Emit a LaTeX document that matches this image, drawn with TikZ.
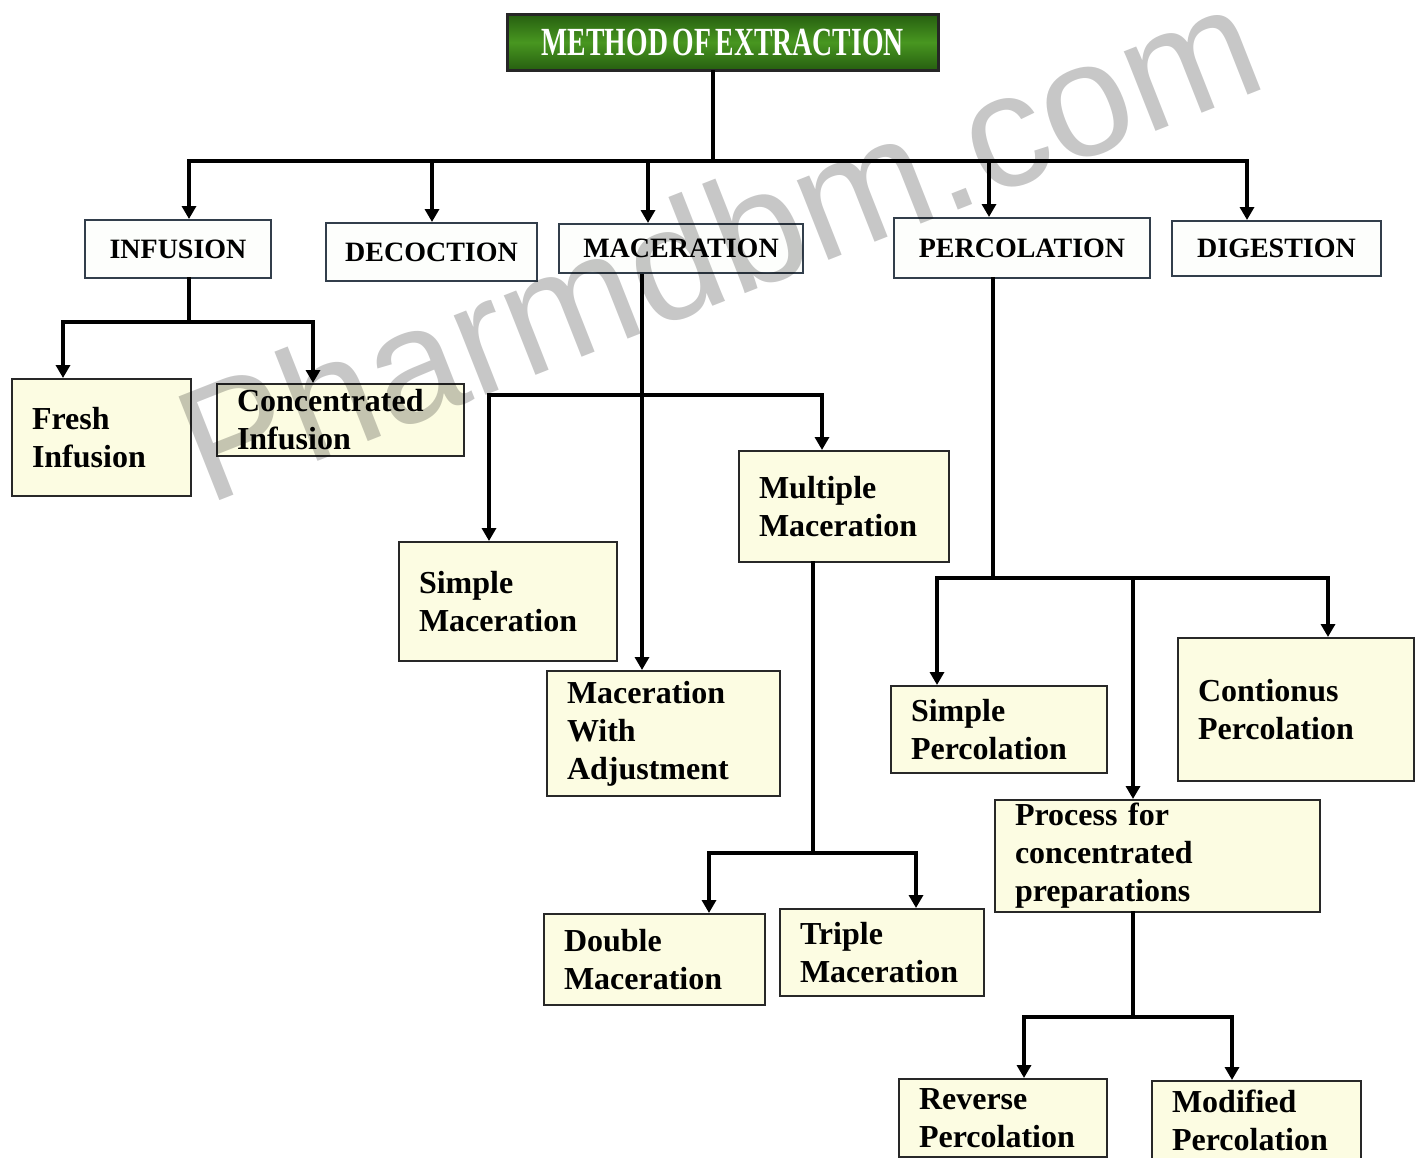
\documentclass[tikz,border=0pt]{standalone}
\usepackage{fontspec}
\setmainfont{Liberation Serif}
\newfontfamily\wmfont{Liberation Sans}
\usepackage{graphicx}
\usetikzlibrary{arrows.meta}

\definecolor{boxfill}{RGB}{252,252,226}
\definecolor{topfill}{RGB}{253,254,252}
\definecolor{edge}{RGB}{40,40,40}
\definecolor{topedge}{RGB}{50,62,75}
\definecolor{titlegreen}{RGB}{72,150,32}
\definecolor{titledark}{RGB}{38,95,16}

\begin{document}
\begin{tikzpicture}[x=1pt,y=-1pt,
  topbox/.style={draw=topedge, line width=2pt, fill=topfill, anchor=north west, inner sep=0pt, font=\fontsize{28}{32}\selectfont\bfseries},
  subbox/.style={draw=edge, line width=2pt, fill=boxfill, anchor=north west, inner xsep=20pt, inner ysep=0pt, align=left, font=\fontsize{32}{38}\selectfont\bfseries},
  conn/.style={line width=4pt, draw=black, line cap=rect},
  arr/.style={line width=4pt, draw=black, -{Triangle[width=14pt,length=13pt]}},
]
\useasboundingbox (0,0) rectangle (1418,1157);
\clip (0,0) rectangle (1418,1157);
\fill[white] (0,0) rectangle (1418,1157);

% title
\node[draw=black!85, line width=2.5pt, top color=titledark, bottom color=titledark, middle color=titlegreen,
      minimum width=431pt, minimum height=56pt, anchor=north west, inner sep=0pt, text=white,
      font=\fontsize{42}{42}\selectfont\bfseries] (title) at (506,13)
      {\scalebox{0.66}[0.95]{METHOD\,OF\,EXTRACTION}};

% level 1
\node[topbox, minimum width=186pt, minimum height=58pt] (inf) at (84,219) {INFUSION};
\node[topbox, minimum width=211pt, minimum height=58pt] (dec) at (325,222) {DECOCTION};
\node[topbox, minimum width=244pt, minimum height=49pt] (mac) at (558,223) {MACERATION};
\node[topbox, minimum width=256pt, minimum height=60pt] (perc) at (893,217) {PERCOLATION};
\node[topbox, minimum width=209pt, minimum height=55pt] (dig) at (1171,220) {DIGESTION};

% level 2
\node[subbox, text width=139pt, minimum height=117pt] (fresh) at (11,378) {Fresh\\Infusion};
\node[subbox, text width=207pt, minimum height=72pt] (conc) at (216,383) {Concentrated\\Infusion};
\node[subbox, text width=178pt, minimum height=119pt] (simmac) at (398,541) {Simple\\Maceration};
\node[subbox, text width=170pt, minimum height=111pt] (multmac) at (738,450) {Multiple\\Maceration};
\node[subbox, text width=193pt, minimum height=125pt] (macadj) at (546,670) {Maceration\\With\\Adjustment};
\node[subbox, text width=181pt, minimum height=91pt] (dblmac) at (543,913) {Double\\Maceration};
\node[subbox, text width=164pt, minimum height=87pt] (trimac) at (779,908) {Triple\\Maceration};
\node[subbox, text width=176pt, minimum height=87pt] (simperc) at (890,685) {Simple\\Percolation};
\node[subbox, text width=196pt, minimum height=143pt] (contperc) at (1177,637) {Contionus\\Percolation};
\node[subbox, text width=285pt, minimum height=112pt] (proc) at (994,799) {Process for\\concentrated\\preparations};
\node[subbox, text width=168pt, minimum height=78pt] (rev) at (898,1078) {Reverse\\Percolation};
\node[subbox, text width=169pt, minimum height=78pt] (mod) at (1151,1080) {Modified\\Percolation};

% main connectors
\coordinate (tj) at (713,161);
\coordinate (b1) at (189,161);
\coordinate (b2) at (432,161);
\coordinate (b3) at (648,161);
\coordinate (b4) at (989,161);
\coordinate (b5) at (1247,161);
\draw[conn] (title.south -| tj) -- (tj);
\draw[conn] (b1) -- (b5);
\draw[arr] (b1) -- (b1 |- inf.north);
\draw[arr] (b2) -- (b2 |- dec.north);
\draw[arr] (b3) -- (b3 |- mac.north);
\draw[arr] (b4) -- (b4 |- perc.north);
\draw[arr] (b5) -- (b5 |- dig.north);

% infusion
\coordinate (ij) at (189,322);
\coordinate (ia) at (63,322);
\coordinate (ib) at (313,322);
\draw[conn] (inf.south -| ij) -- (ij);
\draw[conn] (ia) -- (ib);
\draw[arr] (ia) -- (ia |- fresh.north);
\draw[arr] (ib) -- (ib |- conc.north);

% maceration
\coordinate (mv) at (642,395);
\coordinate (ma) at (489,395);
\coordinate (mb) at (822,395);
\draw[arr] (mac.south -| mv) -- (mv |- macadj.north);
\draw[conn] (ma) -- (mb);
\draw[arr] (ma) -- (ma |- simmac.north);
\draw[arr] (mb) -- (mb |- multmac.north);

% multiple maceration
\coordinate (mm) at (813,853);
\coordinate (md) at (709,853);
\coordinate (mt) at (916,853);
\draw[conn] (multmac.south -| mm) -- (mm);
\draw[conn] (md) -- (mt);
\draw[arr] (md) -- (md |- dblmac.north);
\draw[arr] (mt) -- (mt |- trimac.north);

% percolation
\coordinate (pj) at (993,578);
\coordinate (pa) at (937,578);
\coordinate (pb) at (1133,578);
\coordinate (pc) at (1328,578);
\draw[conn] (perc.south -| pj) -- (pj);
\draw[conn] (pa) -- (pc);
\draw[arr] (pa) -- (pa |- simperc.north);
\draw[arr] (pb) -- (pb |- proc.north);
\draw[arr] (pc) -- (pc |- contperc.north);

% process
\coordinate (qj) at (1133,1017);
\coordinate (qa) at (1024,1017);
\coordinate (qb) at (1232,1017);
\draw[conn] (proc.south -| qj) -- (qj);
\draw[conn] (qa) -- (qb);
\draw[arr] (qa) -- (qa |- rev.north);
\draw[arr] (qb) -- (qb |- mod.north);

% watermark
\node[rotate=21.5, text=black, opacity=0.22, font=\wmfont\fontsize{162}{162}\selectfont] (wm) at (718,242) {Pharmdbm.com};
\end{tikzpicture}
\end{document}
